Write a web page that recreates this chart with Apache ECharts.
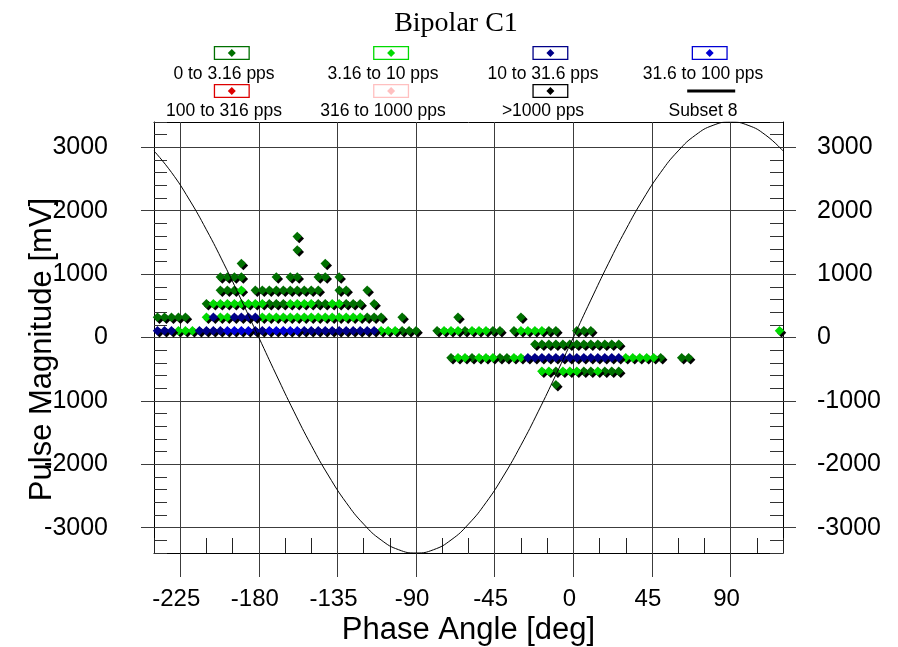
<!DOCTYPE html>
<html><head><meta charset="utf-8">
<script src="https://cdn.jsdelivr.net/npm/echarts@6/dist/echarts.min.js"></script>
<style>html,body{margin:0;padding:0;background:#fff}#c{width:898px;height:647px}</style>
</head><body><div id="c"></div>
<script>
// ---------------- DATA ----------------
const seriesNames = ['0 to 3.16 pps','3.16 to 10 pps','10 to 31.6 pps','31.6 to 100 pps',
  '100 to 316 pps','316 to 1000 pps','>1000 pps','Subset 8'];
const xTickLabels = [-225,-180,-135,-90,-45,0,45,90];
const yTickLabels = [-3000,-2000,-1000,0,1000,2000,3000];

// [phase deg, magnitude mV]
const ptsDarkGreen = [
  [-98,106],[-94,106],[-90,106],[-78,106],[-62,106],[-46,106],[-42,106],[-34,106],[-14,106],[-10,106],[2,106],[6,106],[10,106],
  [-238,319],[-234,319],[-230,319],[-226,319],[-222,319],[-118,319],[-114,319],[-110,319],[-98,319],[-66,319],[-30,319],
  [-210,531],[-174,531],[-170,531],[-166,531],[-146,531],[-142,531],[-130,531],[-126,531],[-122,531],[-114,531],
  [-202,744],[-198,744],[-194,744],[-182,744],[-178,744],[-174,744],[-170,744],[-166,744],[-162,744],[-158,744],[-154,744],[-150,744],[-146,744],[-134,744],[-130,744],[-118,744],
  [-202,956],[-198,956],[-194,956],[-190,956],[-170,956],[-162,956],[-158,956],[-146,956],[-142,956],[-134,956],
  [-190,1169],[-142,1169],[-158,1381],[-158,1594],
  [-22,-106],[-18,-106],[-14,-106],[-10,-106],[-6,-106],[-2,-106],[2,-106],[6,-106],[10,-106],[14,-106],[18,-106],[22,-106],[26,-106],
  [-70,-319],[-58,-319],[-42,-319],[-38,-319],[50,-319],[62,-319],[66,-319],
  [-10,-531],[6,-531],[10,-531],[18,-531],[22,-531],[26,-531],
  [-10,-744]
];
const ptsLightGreen = [
  [-226,106],[-222,106],[-218,106],[-110,106],[-106,106],[-102,106],[-74,106],[-70,106],[-66,106],[-58,106],[-54,106],[-50,106],[-30,106],[-26,106],[-22,106],[-18,106],[118,106],
  [-210,319],[-202,319],[-198,319],[-178,319],[-174,319],[-170,319],[-166,319],[-162,319],[-158,319],[-154,319],[-150,319],[-146,319],[-142,319],[-138,319],[-134,319],[-130,319],[-126,319],[-122,319],
  [-206,531],[-202,531],[-198,531],[-194,531],[-190,531],[-186,531],[-182,531],[-178,531],[-162,531],[-158,531],[-154,531],[-150,531],[-138,531],[-134,531],
  [-190,744],
  [-66,-319],[-62,-319],[-54,-319],[-50,-319],[-46,-319],[-34,-319],[-30,-319],[30,-319],[34,-319],[38,-319],[42,-319],[46,-319],
  [-18,-531],[-14,-531],[-6,-531],[-2,-531],[2,-531],[14,-531]
];
const ptsDarkBlue = [
  [-238,106],[-234,106],[-230,106],[-214,106],[-210,106],[-206,106],[-202,106],[-182,106],[-178,106],[-154,106],[-150,106],[-146,106],[-142,106],[-138,106],[-134,106],[-130,106],[-126,106],[-122,106],[-118,106],[-114,106],
  [-206,319],[-194,319],[-190,319],[-186,319],[-182,319],
  [-26,-319],[-22,-319],[-18,-319],[-14,-319],[-10,-319],[-6,-319],[-2,-319],[2,-319],[6,-319],[10,-319],[14,-319],[18,-319],[22,-319],[26,-319]
];
const ptsBlue = [
  [-198,106],[-194,106],[-190,106],[-186,106],[-174,106],[-170,106],[-166,106],[-162,106],[-158,106]
];
const ptsRed = [];
const ptsPink = [];
const ptsBlack = [];

// Subset 8 reference curve, read every 10 deg
const curvePhase = [-240,-230,-220,-210,-200,-190,-180,-170,-160,-150,-140,-130,-120,-110,-100,-90,-80,-70,-60,-50,-40,-30,-20,-10,0,10,20,30,40,50,60,70,80,90,100,110,120];
const curveMV = [2944,2605,2185,1700,1163,590,0,-590,-1163,-1700,-2185,-2605,-2944,-3195,-3348,-3400,-3348,-3195,-2944,-2605,-2185,-1700,-1163,-590,0,590,1163,1700,2185,2605,2944,3195,3348,3400,3348,3195,2944];

// ---------------- STYLE ----------------
const seriesColors = ['#007000','#00da00','#000088','#0000d4','#dd0000','#ffc0c0','#000000','#000000'];
const FONT = 'Liberation Sans';
const GRID = {left:154, top:122, width:629, height:431};
const GRIDLINE = '#3c3c3c';
const BOX_ICON = 'path://M0,0H36V14H0Z M1.3,1.3V12.7H34.7V1.3Z M18,3L22,7L18,11L14,7Z';

const mctx = document.createElement('canvas').getContext('2d');
function textW(s, font){ mctx.font = font; return mctx.measureText(s).width; }
const XL_FS = 24;
const YL_FS = 25;
const NAME_FS = 31;
const xLabelMargin = Math.round(590 - 0.13 * XL_FS - 553);
const xNameGap = 641 - 0.8465 * NAME_FS - 553;
const yNameGap = 154 - 53.3 - 0.1535 * NAME_FS;

const chart = echarts.init(document.getElementById('c'), null, {renderer:'canvas'});

const boxCX = [231.8, 391.1, 550.4, 709.7];
const boxTop = [46, 84];
const textCX = [224, 383, 543, 703];
const textTop = [65, 102.5];
const LEG_FS = 17.5;

const legends = [];
seriesNames.forEach((name, i) => {
  const row = i < 4 ? 0 : 1, col = i % 4;
  if (i < 7) {
    legends.push({show:true, padding:0, left: boxCX[col]-18, top: boxTop[row], itemWidth:36, itemHeight:14,
      selectedMode:false, formatter: () => '', textStyle:{fontSize:1},
      itemStyle:{borderWidth:0, shadowBlur:0, shadowOffsetX:0, shadowOffsetY:0, shadowColor:'rgba(0,0,0,0)'},
      data:[{name:name, icon:BOX_ICON}]});
  } else {
    legends.push({show:true, padding:0, left: boxCX[col]-24, top: boxTop[row], itemWidth:48, itemHeight:14,
      selectedMode:false, formatter: () => '', textStyle:{fontSize:1},
      itemStyle:{opacity:0}, lineStyle:{width:3, color:'#000'},
      data:[{name:name}]});
  }
  const w = textW(name, LEG_FS + 'px "' + FONT + '"');
  legends.push({show:true, padding:0, left: textCX[col] - w/2 - 5, top: textTop[row], icon:'none',
    itemWidth:0, itemHeight:0, itemGap:0, selectedMode:false,
    textStyle:{fontSize:LEG_FS, fontFamily:FONT, color:'#000'}, data:[name]});
});

const xRange = {type:'value', min:-240, max:120};
const yRange = {type:'value', min:-3400, max:3400};
const noLine = {show:false, onZero:false};

const scatterData = [ptsDarkGreen, ptsLightGreen, ptsDarkBlue, ptsBlue, ptsRed, ptsPink, ptsBlack];
const series = scatterData.map((pts, i) => ({
  name: seriesNames[i], type:'scatter', xAxisIndex:0, yAxisIndex:0,
  symbol:'diamond', symbolSize:[9.5, 9.5], data: pts, z:2,
  itemStyle:{color: seriesColors[i], opacity:1, shadowColor:'#000', shadowBlur:0, shadowOffsetX:2, shadowOffsetY:2},
  emphasis:{disabled:true}
}));
series.push({
  name: seriesNames[7], type:'line', xAxisIndex:0, yAxisIndex:0, smooth:true, symbol:'none', z:3,
  data: curvePhase.map((p, i) => [p, curveMV[i]]),
  lineStyle:{color:'#000', width:1}, emphasis:{disabled:true}
});

const option = {
  animation:false,
  backgroundColor:'#fff',
  title:{text:'Bipolar C1', left:456, top:10, textAlign:'center', padding:0,
    textStyle:{fontFamily:'Liberation Serif', fontSize:28, fontWeight:'normal', color:'#000'}},
  legend: legends,
  grid: Object.assign({containLabel:false, outerBoundsMode:'none'}, GRID),
  xAxis: [
    Object.assign({}, xRange, {position:'bottom', interval:15,
      axisLine:{onZero:false, lineStyle:{color:'#000', width:1}},
      axisTick:{inside:true, length:15, lineStyle:{color:'#222'}},
      axisLabel:{formatter: v => ((v + 225) % 45 === 0 ? String(v) : ''), fontSize:XL_FS, fontFamily:FONT, color:'#000',
        margin:xLabelMargin, padding:[0, 8, 0, 0]},
      splitLine:{show:false},
      name:'Phase Angle [deg]', nameLocation:'middle', nameGap:xNameGap, nameMoveOverlap:false,
      nameTextStyle:{fontSize:NAME_FS, fontFamily:FONT, color:'#000'}}),
    Object.assign({}, xRange, {position:'bottom', axisLine:noLine,
      axisTick:{show:true, inside:true, length:431, customValues:xTickLabels, lineStyle:{color:GRIDLINE}},
      axisLabel:{show:false}, splitLine:{show:false}}),
    Object.assign({}, xRange, {position:'bottom', axisLine:noLine,
      axisTick:{show:true, inside:false, length:24, customValues:xTickLabels, lineStyle:{color:GRIDLINE}},
      axisLabel:{show:false}, splitLine:{show:false}}),
    Object.assign({}, xRange, {position:'top', axisLine:{onZero:false, lineStyle:{color:'#000', width:1}},
      axisTick:{show:false}, axisLabel:{show:false}, splitLine:{show:false}})
  ],
  yAxis: [
    Object.assign({}, yRange, {position:'left', interval:200,
      axisLine:{show:true, onZero:false, lineStyle:{color:'#000', width:1}},
      axisTick:{show:true, inside:true, length:13, lineStyle:{color:'#333'}},
      axisLabel:{formatter: v => (v % 1000 === 0 ? String(v) : ''), fontSize:YL_FS, fontFamily:FONT, color:'#000', margin:46},
      splitLine:{show:false},
      name:'Pulse Magnitude [mV]', nameLocation:'middle', nameGap:yNameGap, nameMoveOverlap:false,
      nameTextStyle:{fontSize:NAME_FS, fontFamily:FONT, color:'#000', padding:[0, 24, 0, 0]}}),
    Object.assign({}, yRange, {position:'left', axisLine:noLine,
      axisTick:{show:true, inside:true, length:642, customValues:yTickLabels, lineStyle:{color:GRIDLINE}},
      axisLabel:{show:false}, splitLine:{show:false}}),
    Object.assign({}, yRange, {position:'left', axisLine:noLine,
      axisTick:{show:true, inside:false, length:13, customValues:yTickLabels, lineStyle:{color:GRIDLINE}},
      axisLabel:{show:false}, splitLine:{show:false}}),
    Object.assign({}, yRange, {position:'right', interval:200,
      axisLine:{show:true, onZero:false, lineStyle:{color:'#000', width:1}},
      axisTick:{show:true, inside:true, length:13, lineStyle:{color:'#333'}},
      axisLabel:{formatter: v => (v % 1000 === 0 ? String(v) : ''), fontSize:YL_FS, fontFamily:FONT, color:'#000', margin:34},
      splitLine:{show:false}})
  ],
  series: series
};
chart.setOption(option);
</script>
</body></html>
